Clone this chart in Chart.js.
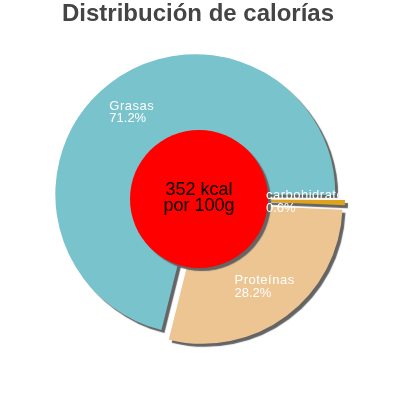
<!DOCTYPE html>
<html>
<head>
<meta charset="utf-8">
<script src="https://cdn.jsdelivr.net/npm/chart.js@4/dist/chart.umd.min.js"></script>
<style>
  html, body { margin: 0; padding: 0; background: #fff; }
  #wrap { width: 400px; height: 400px; }
</style>
</head>
<body>
<div id="wrap"><canvas id="myChart" width="400" height="400"></canvas></div>
<script>
// Datos del gráfico
const categorias = ['Grasas', 'carbohidratos', 'Proteínas'];
const porcentajes = [71.2, 0.6, 28.2];
const etiquetasPct = ['71.2%', '0.6%', '28.2%'];
const colores = ['#79c3cc', '#dea21c', '#edc592'];
const titulo = 'Distribución de calorías';
const textoCentro = ['352 kcal', 'por 100g'];

const explode = 6;      // separación de las porciones
const sombra = '#646464';

// Plugin: porciones separadas con sombra, círculo rojo, etiquetas y título
const piePlugin = {
    id: 'piePlugin',
    beforeDatasetDraw(chart, args) {
        const ctx = chart.ctx;
        args.meta.data.forEach(function(arc) {
            const mid = (arc.startAngle + arc.endAngle) / 2;
            ctx.save();
            ctx.translate(Math.cos(mid) * explode, Math.sin(mid) * explode);
            ctx.shadowColor = sombra;
            ctx.shadowOffsetX = 3;
            ctx.shadowOffsetY = 3;
            ctx.shadowBlur = 1;
            arc.draw(ctx);
            ctx.restore();
        });
        return false;
    },
    afterDraw(chart) {
        const ctx = chart.ctx;
        const arcs = chart.getDatasetMeta(0).data;
        const cx = arcs[0].x, cy = arcs[0].y, R = arcs[0].outerRadius;

        // círculo central
        ctx.save();
        ctx.shadowColor = sombra;
        ctx.shadowOffsetX = 3;
        ctx.shadowOffsetY = 3;
        ctx.shadowBlur = 1;
        ctx.fillStyle = '#ff0000';
        ctx.beginPath();
        ctx.arc(cx, cy, 69, 0, Math.PI * 2);
        ctx.fill();
        ctx.restore();

        ctx.save();
        ctx.fillStyle = '#000';
        ctx.font = '18px "Liberation Sans", Arial, sans-serif';
        ctx.textAlign = 'center';
        ctx.textBaseline = 'middle';
        ctx.fillText(textoCentro[0], cx, cy - 9);
        ctx.fillText(textoCentro[1], cx, cy + 7);
        ctx.restore();

        // etiquetas de las porciones
        ctx.save();
        ctx.beginPath();
        ctx.rect(0, 0, 339, 400);
        ctx.clip();
        ctx.fillStyle = '#fff';
        ctx.font = '13px "Liberation Sans", Arial, sans-serif';
        ctx.textAlign = 'left';
        ctx.textBaseline = 'middle';
        arcs.forEach(function(arc, i) {
            const mid = (arc.startAngle + arc.endAngle) / 2;
            const r = R * 0.74 + explode;
            const x = cx + Math.cos(mid) * r;
            const y = cy + Math.sin(mid) * r;
            ctx.letterSpacing = '0.5px';
            const wNom = ctx.measureText(categorias[i]).width;
            ctx.letterSpacing = '0px';
            const wPct = ctx.measureText(etiquetasPct[i]).width;
            const w = Math.max(wNom, wPct);
            ctx.letterSpacing = '0.5px';
            ctx.fillText(categorias[i], x - w / 2, y - 6.25);
            ctx.letterSpacing = '0px';
            ctx.fillText(etiquetasPct[i], x - w / 2, y + 6.25);
        });
        ctx.restore();

        // título
        ctx.save();
        ctx.fillStyle = '#444';
        ctx.font = 'bold 24px "Liberation Sans", Arial, sans-serif';
        ctx.textAlign = 'center';
        ctx.textBaseline = 'alphabetic';
        ctx.fillText(titulo, 198, 21);
        ctx.restore();
    }
};

window.onload = function() {
    const ctx = document.getElementById('myChart').getContext('2d');
    const grafico = new Chart(ctx, {
        type: 'pie',
        data: {
            labels: categorias,
            datasets: [{
                data: porcentajes,
                backgroundColor: colores,
                borderWidth: 0,
                radius: 140
            }]
        },
        options: {
            responsive: false,
            animation: false,
            rotation: 194,
            layout: {
                padding: { left: 40, right: 42, top: 40, bottom: 42 }
            },
            plugins: {
                legend: { display: false },
                tooltip: { enabled: false },
                title: { display: false }
            }
        },
        plugins: [piePlugin]
    });
};
</script>
</body>
</html>
